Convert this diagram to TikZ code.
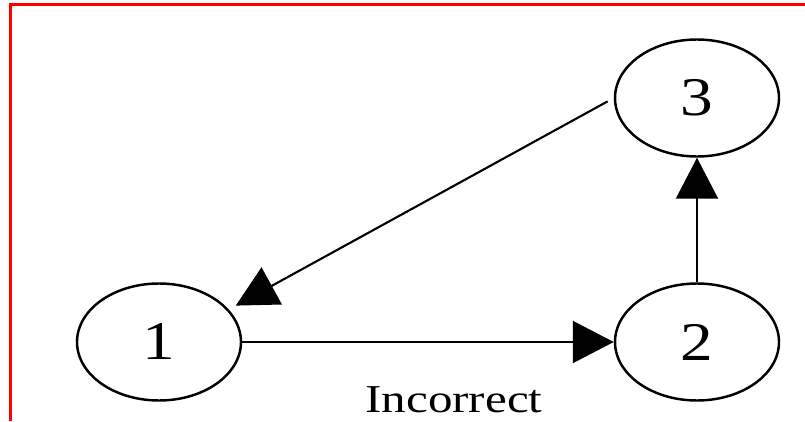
\documentclass[tikz,border=0pt]{standalone}
\usepackage{fontspec}
\setmainfont{Liberation Serif}
\usetikzlibrary{shapes.geometric}
\usetikzlibrary{arrows.meta}

\newcommand{\stretched}[2][1.2]{\scalebox{#1}[1]{#2}}

\begin{document}
\begin{tikzpicture}[
        state/.style={ellipse, draw, line width=1.4pt, minimum width=3.28cm, minimum height=2.34cm, inner sep=0pt, font=\fontsize{31}{31}\selectfont},
        edge/.style={line width=1.2pt, -{Triangle[length=0.82cm, width=0.84cm]}}
    ]

        \useasboundingbox (0,0) rectangle (16.1,8.42);

        % Frame (top and left only)
        \draw[red, line width=0.07cm] (0.206,0) -- (0.206,8.326) -- (16.1,8.326);

        % States
        \node[state] (n1) at (3.18,1.58) {\stretched{1}};
        \node[state] (n2) at (13.94,1.58) {\stretched{2}};
        \node[state] (n3) at (13.94,6.46) {\stretched{3}};

        % Transitions
        \draw[edge] (n1) -- (n2);
        \draw[edge] (n2) -- (n3);
        \draw[edge, shorten <=0.14cm, shorten >=0.16cm] (n3.west) -- (n1.25);

        \node[font=\fontsize{22.5}{22.5}\selectfont] (caption) at (9.08,0.42) {\stretched[1.24]{Incorrect}};

    \end{tikzpicture}
\end{document}
